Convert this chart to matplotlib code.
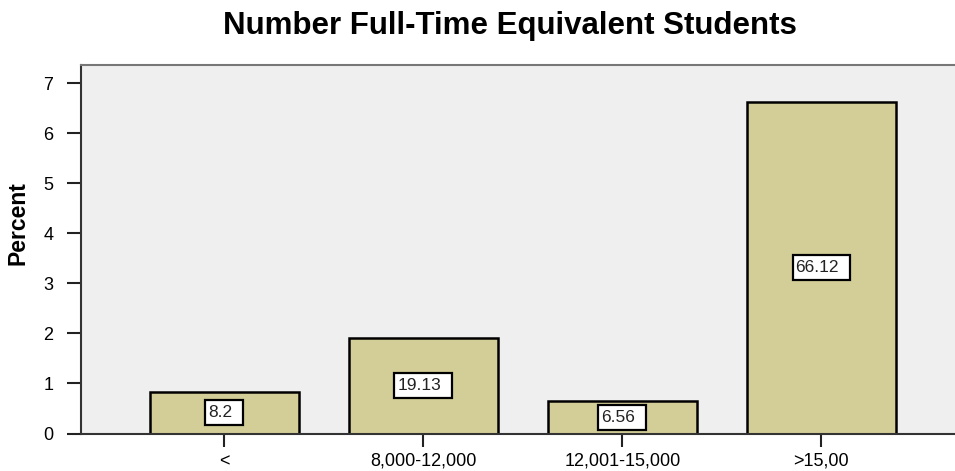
import matplotlib
matplotlib.use("Agg")
import matplotlib.pyplot as plt
from matplotlib.patches import Rectangle
from matplotlib.transforms import ScaledTranslation

plt.rcParams['font.family'] = ['Liberation Sans', 'DejaVu Sans']

categories = ["<", "8,000-12,000", "12,001-15,000", ">15,00"]
percent = [8.2, 19.13, 6.56, 66.12]
# bars are drawn on a 0-7 axis (tenths of the stated percentages)
scale = 10.0
yticks = [0, 1, 2, 3, 4, 5, 6, 7]

DPI = 100
fig = plt.figure(figsize=(9.55, 4.71), dpi=DPI)
ax = fig.add_axes([81 / 955, 1 - 433.5 / 471, (955 - 81) / 955 + 0.01, (433.5 - 65) / 471])
ax.set_facecolor('#efefef')

x = list(range(len(categories)))
heights = [p / scale for p in percent]
ax.bar(x, heights, width=0.75, color='#d3ce98', edgecolor='black', linewidth=1.8, zorder=2)

ax.set_xlim(-0.72, 3.72)
ax.set_ylim(0, 7.36)

# value boxes: white box centred on the bar, text sitting at its left side
renderer = fig.canvas.get_renderer()
for xi, h, p in zip(x, heights, percent):
    t = ax.text(0, 0, "{:g}".format(p), ha='left', va='center', fontsize=12.5,
                color='#222222', zorder=4)
    tw = t.get_window_extent(renderer).width / DPI
    bw = tw + 14 / DPI
    bh = 25 / DPI
    anchor = fig.dpi_scale_trans + ScaledTranslation(xi, h / 2, ax.transData)
    t.set_transform(anchor)
    t.set_position((-bw / 2 + 3 / DPI, 0))
    ax.add_patch(Rectangle((-bw / 2, -bh / 2), bw, bh, transform=anchor,
                           facecolor='white', edgecolor='black', linewidth=1.6, zorder=3))

ax.set_xticks(x)
ax.set_xticklabels(categories, fontsize=13)
ax.set_yticks(yticks)
ax.set_yticklabels([str(t) for t in yticks], fontsize=13)
ax.tick_params(axis='x', direction='out', length=9, width=1.5, color='#222222', pad=5)
ax.tick_params(axis='y', direction='out', length=10, width=1.5, color='#222222', pad=10)

ax.spines['right'].set_visible(False)
ax.spines['top'].set_color('#777777')
ax.spines['top'].set_linewidth(1.5)
ax.spines['left'].set_color('#333333')
ax.spines['left'].set_linewidth(1.5)
ax.spines['bottom'].set_color('#333333')
ax.spines['bottom'].set_linewidth(1.5)

fig.text(18.5 / 955, 1 - 223 / 471, 'Percent', rotation=90, ha='center', va='center',
         fontsize=16.5, fontweight='bold')
fig.text(509.5 / 955, 1 - 34 / 471, 'Number Full-Time Equivalent Students', ha='center',
         va='baseline', fontsize=22.5, fontweight='bold')

fig.savefig('out.png', dpi=DPI)
